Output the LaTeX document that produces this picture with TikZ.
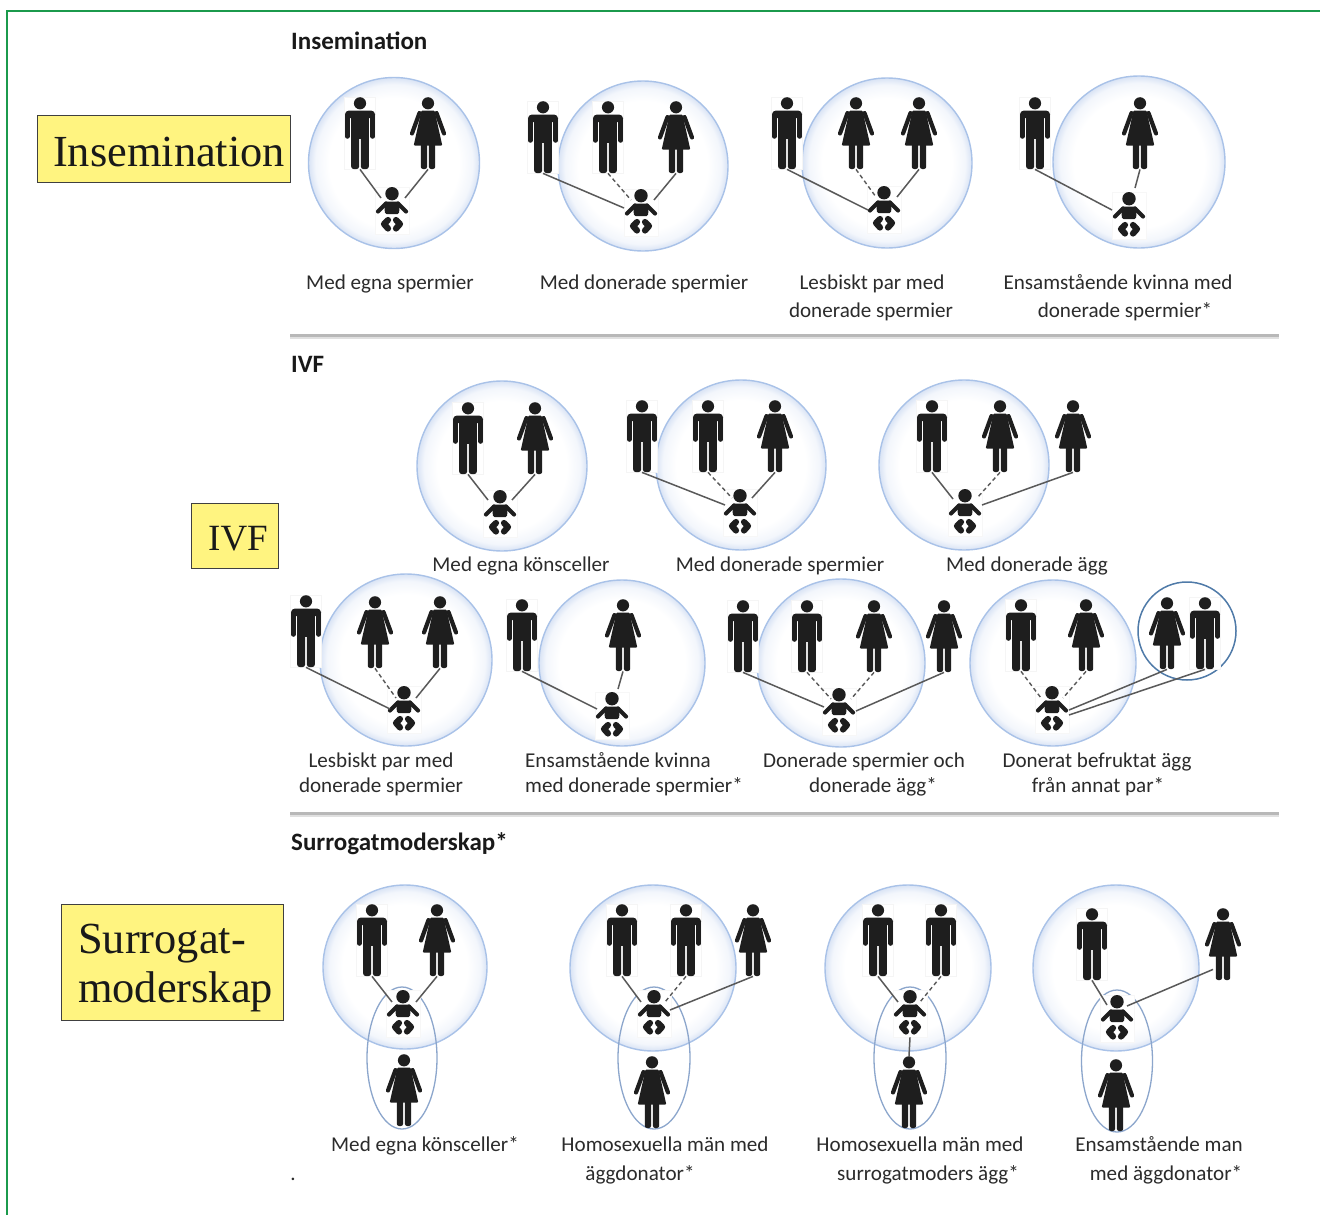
\documentclass[tikz,border=0pt]{standalone}
\usepackage{fontspec}
\setmainfont{Carlito}
\newfontfamily\serifbox{Liberation Serif}
\definecolor{ink}{HTML}{1E1E1E}
\definecolor{capink}{HTML}{2B2B2B}
\definecolor{rim}{HTML}{A9C2E8}
\definecolor{rimin}{HTML}{CFDCF2}
\definecolor{oval}{HTML}{8CA6CC}
\definecolor{ring}{HTML}{4F7AA8}
\definecolor{frame}{HTML}{1B9A4C}
\definecolor{ylw}{HTML}{FFF480}
\pgfdeclareradialshading{bubbleshade}{\pgfpoint{0bp}{0bp}}{color(0bp)=(white);color(19bp)=(white);color(23bp)=(rimin!25!white);color(25bp)=(rimin!80!white);color(50bp)=(rimin!80!white)}
\usetikzlibrary{shapes.geometric}
\tikzset{
  x=1pt,y=-1pt,
  bubble/.style={circle,inner sep=0pt,shade,shading=bubbleshade,draw=rim,line width=1.4pt},
  mbox/.style={rectangle,inner sep=0pt,minimum width=31pt,minimum height=72pt,anchor=north,fill=white,draw=black!4,line width=.4pt},
  wbox/.style={rectangle,inner sep=0pt,minimum width=36pt,minimum height=72pt,anchor=north},
  bbox/.style={rectangle,inner sep=0pt,minimum width=34pt,minimum height=47pt,anchor=north,fill=white,draw=black!3,line width=.4pt},
  solidlink/.style={draw=black!65,line width=1.5pt},
  dashlink/.style={draw=black!65,line width=1.4pt,dash pattern=on 4pt off 3pt},
  capt/.style={font=\fontsize{21.1}{25}\selectfont,text=capink,inner sep=0pt,anchor=base},
  head/.style={font=\fontsize{25}{29}\selectfont\bfseries,text=black!90,inner sep=0pt,anchor=base west},
  ybox/.style={rectangle,fill=ylw,draw=black!75,line width=1pt,inner sep=0pt},
  ytext/.style={inner sep=0pt,anchor=base west,font=\serifbox\fontsize{44.4}{48}\selectfont,text=black!90},
  pics/man/.style={code={
    \fill[ink] (0,6.3) circle (6.1);
    \fill[ink,rounded corners=4pt] (-15,13.5) rectangle (15,21);
    \draw[ink,line width=4.5pt,line cap=round] (-12.7,18)--(-12.7,39.5);
    \draw[ink,line width=4.5pt,line cap=round] (12.7,18)--(12.7,39.5);
    \fill[ink] (-8.8,15) rectangle (8.8,42);
    \fill[ink,rounded corners=2.4pt] (-8.8,36) rectangle (-0.9,72);
    \fill[ink,rounded corners=2.4pt] (0.9,36) rectangle (8.8,72);
  }},
  pics/woman/.style={code={
    \fill[ink] (0,6.3) circle (6.1);
    \fill[ink,rounded corners=1pt] (-6.5,13.5)--(6.5,13.5)--(14.3,48.5)--(-14.3,48.5)--cycle;
    \draw[ink,line width=4.2pt,line cap=round] (-8.5,16)--(-16,36.5);
    \draw[ink,line width=4.2pt,line cap=round] (8.5,16)--(16,36.5);
    \fill[ink,rounded corners=2.2pt] (-7.2,44) rectangle (-0.9,72);
    \fill[ink,rounded corners=2.2pt] (0.9,44) rectangle (7.2,72);
  }},
  pics/baby/.style={code={
    \fill[ink] (0,6.7) circle (6.7);
    \fill[ink,rounded corners=1.5pt] (-8,14.5)--(8,14.5)--(7,27)--(-7,27)--cycle;
    \draw[ink,line width=4.2pt,line cap=round] (-6,16.5)--(-14,24.5);
    \draw[ink,line width=4.2pt,line cap=round] (6,16.5)--(14,24.5);
    \draw[ink,line width=6.2pt,line join=round,line cap=round] (-4,33)--(-8,37)--(-4,41.5);
    \draw[ink,line width=6.2pt,line join=round,line cap=round] (4,33)--(8,37)--(4,41.5);
  }},
}
\newcommand\Bub[4]{\node[bubble,minimum size={2*#4}] (#1) at (#2,#3) {};}
\newcommand\Man[3]{\node[mbox] (#1) at (#2,#3) {}; \pic at (#1.north) {man};}
\newcommand\Wom[3]{\node[wbox] (#1) at (#2,#3) {}; \pic at (#1.north) {woman};}
\newcommand\Bab[3]{\node[bbox] (#1) at (#2,#3) {}; \pic at (#1.north) {baby};}
\newcommand\Ova[4]{\node[ellipse,draw=oval,line width=1.3pt,minimum width=#3,minimum height=142pt,inner sep=0pt] (#4) at (#1,#2) {};}
\newcommand\Lk[4]{\draw[#1] (#2.south) -- ([shift={(#4)}]#3.north);}
\newcommand\Cap[4]{\node[capt] (#1) at (#2,#3) {#4};}
\begin{document}
\begin{tikzpicture}
\useasboundingbox (0,0) rectangle (1320,1215);
\fill[white] (0,0) rectangle (1320,1215);
% frame
\draw[frame,line width=2.6pt] (7,1215)--(7,11)--(1320,11);
% labels
\node[ybox,minimum width=253pt,minimum height=67pt] (l1) at (163.5,148.5) {};
\node[ytext] (l1t) at (53,166) {Insemination};
\node[ybox,minimum width=87pt,minimum height=65pt] (l2) at (234.5,535.5) {};
\node[ytext,font=\serifbox\fontsize{37}{40}\selectfont] (l2t) at (208,550) {IVF};
\node[ybox,minimum width=222pt,minimum height=116pt] (l3) at (172,962) {};
\node[ytext] (l3t) at (78,953) {Surrogat-};
\node[ytext] (l3u) at (78,1002) {moderskap};
% rules
\fill[black!28] (290,333.5) rectangle (1279,336.5);
\fill[black!12] (290,336.5) rectangle (1279,339);
\fill[black!28] (290,811.5) rectangle (1279,814.5);
\fill[black!12] (290,814.5) rectangle (1279,817);
% headings
\node[head] (h1) at (291,50) {Insemination};
\node[head] (h2) at (291,372) {IVF};
\node[head] (h3) at (291,850) {Surrogatmoderskap*};
% Insemination 1
\Bub{a}{394}{163}{85.5}
\Man{am}{360}{97}\Wom{aw}{428}{97}\Bab{ab}{392}{187}
\Lk{solidlink}{am}{ab}{-11,11}\Lk{solidlink}{aw}{ab}{13,11}
% 2
\Bub{b}{643}{166}{85}
\Man{bd}{543}{101}\Man{bm}{608}{101}\Wom{bw}{676}{101}\Bab{bb}{641}{189}
\Lk{solidlink}{bd}{bb}{-17,19}\Lk{dashlink}{bm}{bb}{-10,11}\Lk{solidlink}{bw}{bb}{13,11}
% 3
\Bub{c}{887}{163}{85}
\Man{cd}{787}{97}\Wom{cw}{856}{97}\Wom{cx}{919}{97}\Bab{cb}{884}{186}
\Lk{solidlink}{cd}{cb}{-16,24}\Lk{dashlink}{cw}{cb}{-8,11}\Lk{solidlink}{cx}{cb}{13,11}
% 4
\Bub{d}{1139}{162}{86}
\Man{dd}{1035}{97}\Wom{dw}{1140}{97}\Bab{db}{1129}{192}
\Lk{solidlink}{dd}{db}{-17,18}\Lk{solidlink}{dw}{db}{6,-4}
% IVF row 1
\Bub{e}{502}{466}{85}
\Man{em}{468}{402}\Wom{ew}{535}{402}\Bab{eb}{500}{490}
\Lk{solidlink}{em}{eb}{-12,10}\Lk{solidlink}{ew}{eb}{12,10}
\Bub{f}{741}{465}{85}
\Man{fd}{642}{400}\Man{fm}{708}{400}\Wom{fw}{775}{400}\Bab{fb}{740}{489}
\Lk{solidlink}{fd}{fb}{-15,16}\Lk{dashlink}{fm}{fb}{-8,9}\Lk{solidlink}{fw}{fb}{12,9}
\Bub{g}{964}{465}{85}
\Man{gm}{932}{400}\Wom{gw}{1000}{400}\Wom{gd}{1073}{400}\Bab{gb}{965}{489}
\Lk{solidlink}{gm}{gb}{-12,10}\Lk{dashlink}{gw}{gb}{12,9}\Lk{solidlink}{gd}{gb}{17,16}
% IVF row 2
\Bub{k}{406}{660}{86}
\Man{kd}{306}{595}\Wom{kw}{375}{596}\Wom{kx}{440}{596}\Bab{kb}{404}{686}
\Lk{solidlink}{kd}{kb}{-14,23}\Lk{dashlink}{kw}{kb}{-8,12}\Lk{solidlink}{kx}{kb}{12,12}
\Bub{l}{622}{663}{83}
\Man{ld}{522}{599}\Wom{lw}{623}{599}\Bab{lb}{612}{692}
\Lk{solidlink}{ld}{lb}{-15,17}\Lk{solidlink}{lw}{lb}{6,-3}
\Bub{m}{841}{663}{84}
\Man{md}{743}{600}\Man{mm}{807}{600}\Wom{mw}{874}{600}\Wom{mx}{944}{600}\Bab{mb}{839}{688}
\Lk{solidlink}{md}{mb}{-15,19}\Lk{dashlink}{mm}{mb}{-8,11}\Lk{dashlink}{mw}{mb}{12,11}\Lk{solidlink}{mx}{mb}{17,23}
\Bub{n}{1053}{663}{83}
\Man{nm}{1021}{599}\Wom{nw}{1086}{599}
\node[circle,draw=ring,line width=1.5pt,minimum size=98pt,inner sep=0pt] (nr) at (1187,631) {};
\Wom{nx}{1167}{597}\Man{ny}{1205}{597}\Bab{nb}{1052}{686}
\Lk{dashlink}{nm}{nb}{-11,12}\Lk{dashlink}{nw}{nb}{11,12}
\Lk{solidlink}{nx}{nb}{17,24}\Lk{solidlink}{ny}{nb}{17,29}
% Surrogacy
\Bub{p}{405}{967}{82}
\Ova{402}{1058}{70pt}{po}
\Man{pm}{372}{904}\Wom{pw}{437}{904}\Bab{pb}{403}{990}\Wom{ps}{404}{1054}
\Lk{solidlink}{pm}{pb}{-11,12}\Lk{solidlink}{pw}{pb}{13,12}
\Bub{q}{653}{968}{83}
\Ova{654}{1058}{72pt}{qo}
\Man{qm}{622}{904}\Man{qn}{686}{904}\Wom{qd}{753}{904}\Bab{qb}{654}{990}\Wom{qs}{652}{1056}
\Lk{solidlink}{qm}{qb}{-13,12}\Lk{dashlink}{qn}{qb}{11,12}\Lk{solidlink}{qd}{qb}{16,20}
\Bub{r}{908}{968}{83}
\Ova{910}{1058}{72pt}{ro}
\Man{rm}{878}{904}\Man{rn}{941}{904}\Bab{rb}{910}{990}\Wom{rs}{909}{1056}
\Lk{solidlink}{rm}{rb}{-12,12}\Lk{dashlink}{rn}{rb}{10,12}
\draw[solidlink] (rb.south) -- (rs.north);
\Bub{s}{1116}{968}{83}
\Ova{1117}{1061}{71pt}{so}
\Man{sm}{1092}{908}\Wom{sd}{1223}{908}\Bab{sb}{1117}{995}\Wom{ss}{1116}{1059}
\Lk{solidlink}{sm}{sb}{-10,10}
\draw[solidlink] ([shift={(-10,-11)}]sd.south) -- ([shift={(10,11)}]sb.north);
% captions
\Cap{t1}{390}{289}{Med egna spermier}
\Cap{t2}{644}{289}{Med donerade spermier}
\Cap{t3}{872}{289}{Lesbiskt par med}
\Cap{t4}{871}{317}{donerade spermier}
\Cap{t5}{1118}{289}{Ensamstående kvinna med}
\Cap{t6}{1125}{317}{donerade spermier*}
\Cap{t7}{521}{571}{Med egna könsceller}
\Cap{t8}{780}{571}{Med donerade spermier}
\Cap{t9}{1027}{571}{Med donerade ägg}
\Cap{t10}{381}{767}{Lesbiskt par med}
\Cap{t11}{381}{792}{donerade spermier}
\Cap{t12}{618}{767}{Ensamstående kvinna}
\Cap{t13}{634}{792}{med donerade spermier*}
\Cap{t14}{864}{767}{Donerade spermier och}
\Cap{t15}{873}{792}{donerade ägg*}
\Cap{t16}{1097}{767}{Donerat befruktat ägg}
\Cap{t17}{1098}{792}{från annat par*}
\Cap{t18}{425}{1151}{Med egna könsceller*}
\Cap{t19}{665}{1151}{Homosexuella män med}
\Cap{t20}{640}{1180}{äggdonator*}
\Cap{t21}{920}{1151}{Homosexuella män med}
\Cap{t22}{928}{1180}{surrogatmoders ägg*}
\Cap{t23}{1159}{1151}{Ensamstående man}
\Cap{t24}{1166}{1180}{med äggdonator*}
\Cap{t25}{293}{1180}{.}
\end{tikzpicture}
\end{document}
